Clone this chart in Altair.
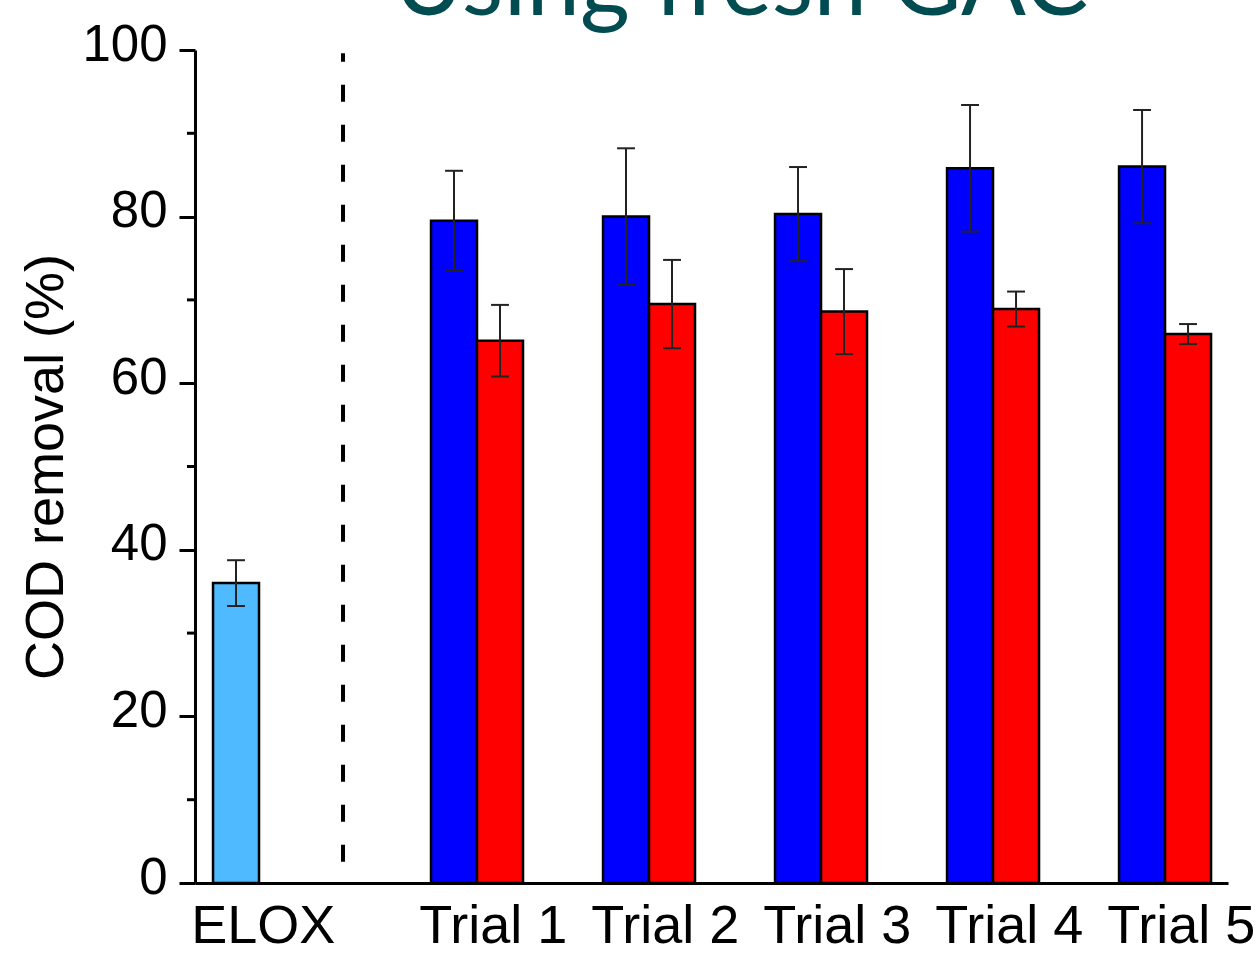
import altair as alt
import pandas as pd

# ---- values -------------------------------------------------------------
trials = ["Trial 1", "Trial 2", "Trial 3", "Trial 4", "Trial 5"]
elox_label = "ELOX"
elox_mean = 36.0
elox_err = 2.75
first_means = [79.5, 80.0, 80.3, 85.8, 86.0]
first_errs = [6.0, 8.2, 5.65, 7.6, 6.8]
second_means = [65.1, 69.5, 68.6, 68.9, 65.9]
second_errs = [4.3, 5.3, 5.1, 2.1, 1.2]
y_major = [0, 20, 40, 60, 80, 100]
y_minor = [10, 30, 50, 70, 90]
title_text = "Using fresh GAC"

# ---- layout (x in group units: trials sit at 1..5) -----------------------
X_MIN, X_MAX = -0.6395, 5.366
ELOX_POS = -0.401
DIVIDER_POS = 0.221
BAR_W = 0.2674          # one bar, in group units
CAP_HALF = 0.052        # half width of the error-bar caps
LABEL_SHIFT = 0.092     # x labels sit slightly right of the group centre
ELOX_LABEL_POS = -0.246
W, H = 1033, 833

rows = []
rows.append(dict(x0=ELOX_POS - BAR_W / 2, x1=ELOX_POS + BAR_W / 2,
                 xc=ELOX_POS, mean=elox_mean, err=elox_err, series="elox"))
for i, t in enumerate(trials):
    c = i + 1
    rows.append(dict(x0=c - BAR_W, x1=c, xc=c - BAR_W / 2,
                     mean=first_means[i], err=first_errs[i], series="first"))
    rows.append(dict(x0=c, x1=c + BAR_W, xc=c + BAR_W / 2,
                     mean=second_means[i], err=second_errs[i], series="second"))
df = pd.DataFrame(rows)
df["lo"] = df["mean"] - df["err"]
df["hi"] = df["mean"] + df["err"]
df["c0"] = df["xc"] - CAP_HALF
df["c1"] = df["xc"] + CAP_HALF

xscale = alt.Scale(domain=[X_MIN, X_MAX], nice=False, zero=False)
yscale = alt.Scale(domain=[0, 100], nice=False)

label_positions = [ELOX_LABEL_POS] + [i + 1 + LABEL_SHIFT for i in range(len(trials))]
label_expr = ("datum.value < 0 ? '" + elox_label + "' : 'Trial ' + round(datum.value)")

x_axis = alt.Axis(values=label_positions, labelExpr=label_expr, ticks=False,
                  grid=False, title=None, labelFont="Liberation Sans",
                  labelFontSize=54, labelColor="black", labelPadding=59,
                  labelBaseline="alphabetic", labelFlush=False,
                  labelOverlap=False, domainColor="black", domainWidth=3)
y_axis = alt.Axis(values=y_major, format="d", tickSize=16, tickWidth=3,
                  tickColor="black", domainColor="black", domainWidth=3,
                  grid=False, labelFont="Liberation Sans", labelFontSize=51,
                  labelColor="black", labelPadding=12, labelOffset=-5,
                  title="COD removal (%)", titleFont="Liberation Sans",
                  titleFontSize=54, titleFontWeight="normal", titleColor="black",
                  titleAngle=-90, titleBaseline="alphabetic", titleX=-133,
                  titleY=H / 2, titleAlign="center")

colors = alt.Scale(domain=["elox", "first", "second"],
                   range=["#4FBAFF", "#0000FF", "#FF0000"])

bars = alt.Chart(df).mark_bar(stroke="black", strokeWidth=2.5).encode(
    x=alt.X("x0:Q", scale=xscale, axis=x_axis),
    x2="x1:Q",
    y=alt.Y("mean:Q", scale=yscale, axis=y_axis),
    y2=alt.datum(0),
    color=alt.Color("series:N", scale=colors, legend=None),
)

stems = alt.Chart(df).mark_rule(color="#222222", strokeWidth=2).encode(
    x="xc:Q", y="lo:Q", y2="hi:Q")
caps_hi = alt.Chart(df).mark_rule(color="#222222", strokeWidth=2).encode(
    x="c0:Q", x2="c1:Q", y="hi:Q")
caps_lo = alt.Chart(df).mark_rule(color="#222222", strokeWidth=2).encode(
    x="c0:Q", x2="c1:Q", y="lo:Q")

# minor ticks on the value axis
minor_df = pd.DataFrame({"v": y_minor})
minor = alt.Chart(minor_df).mark_rule(color="black", strokeWidth=3).encode(
    x=alt.value(-8), x2=alt.value(0), y="v:Q")

# dashed divider between the ELOX bar and the trials
div_df = pd.DataFrame({"x": [DIVIDER_POS], "y0": [2.55], "y1": [99.6]})
divider = alt.Chart(div_df).mark_rule(color="black", strokeWidth=4,
                                      strokeDash=[17, 23]).encode(
    x="x:Q", y="y0:Q", y2="y1:Q")

title_df = pd.DataFrame({"t": [title_text]})
title = alt.Chart(title_df).mark_text(
    font="Lato", fontSize=96, color="#004C50", baseline="alphabetic",
    align="center").encode(
    text="t:N", x=alt.value(546), y=alt.value(-35))

chart = alt.layer(bars, stems, caps_hi, caps_lo, minor, divider, title).properties(
    width=W, height=H,
    background="white",
    autosize=alt.AutoSizeParams(type="none"),
    padding={"left": 195, "top": 50, "right": 30, "bottom": 72},
).configure_view(stroke=None)

chart.save("out.html", embed_options={"renderer": "svg", "actions": False})
